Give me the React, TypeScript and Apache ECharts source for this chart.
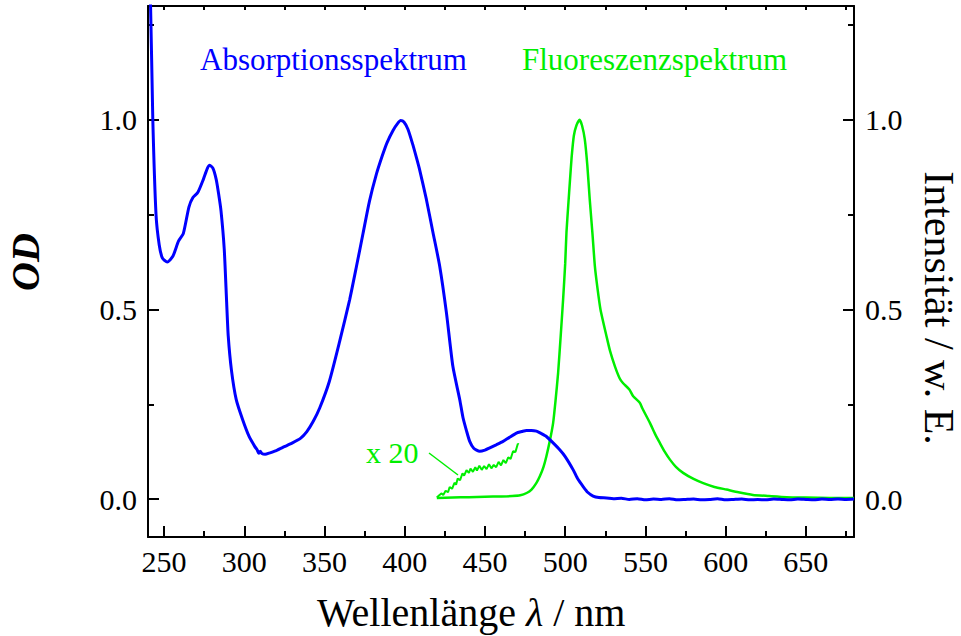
import React, { useEffect, useRef } from "react";
import * as echarts from "echarts";

// Absorption spectrum (optical density vs. wavelength in nm)
const absWavelength = [
  240, 241.6, 243, 245, 247, 249, 252, 255.5, 259, 262, 265.5, 268, 271, 274.5, 277, 278.5, 280.5,
  282.5, 284, 285.5, 287.5, 289, 290, 292, 295, 299, 303, 306.5, 308, 309, 310, 311, 313, 316, 320,
  325, 330, 335, 339, 343, 347, 353, 359.4, 365.7, 370, 374, 378, 382.3, 386, 389, 392.7, 395.5,
  397.5, 399.5, 402, 405, 407.3, 409.3, 413.5, 417.6, 421.8, 426, 430, 434.3, 436.3, 438.5, 440.5,
  443, 446.7, 450, 453, 457, 461.3, 465, 469.6, 473, 475.9, 479, 482.1, 485, 488.3, 492, 496.6,
  500, 505, 508, 511.2, 514, 517.4, 521, 525.8, 530, 535, 540, 545, 550, 555, 560, 565, 570, 575,
  580, 585, 590, 595, 600, 605, 610, 615, 620, 625, 630, 635, 640, 645, 650, 655, 660, 665, 670,
  675, 680,
];
const absOD = [
  1.45, 1.3, 1.0, 0.75, 0.67, 0.635, 0.625, 0.64, 0.68, 0.7, 0.77, 0.795, 0.808, 0.843, 0.872,
  0.88, 0.872, 0.843, 0.805, 0.76, 0.66, 0.52, 0.43, 0.34, 0.262, 0.209, 0.165, 0.139, 0.13,
  0.121, 0.126, 0.12, 0.118, 0.122, 0.128, 0.138, 0.148, 0.16, 0.178, 0.205, 0.24, 0.31, 0.415,
  0.526, 0.615, 0.7, 0.785, 0.856, 0.905, 0.94, 0.972, 0.99, 0.998, 0.994, 0.975, 0.935, 0.9,
  0.868, 0.79, 0.703, 0.614, 0.491, 0.35, 0.262, 0.215, 0.18, 0.152, 0.134, 0.126, 0.129, 0.135,
  0.143, 0.152, 0.162, 0.174, 0.178, 0.181, 0.181, 0.179, 0.173, 0.165, 0.15, 0.13, 0.112, 0.077,
  0.052, 0.033, 0.018, 0.008, 0.004, 0.003, 0.001, 0.002, -0.001, 0.001, -0.002, 0.0, -0.001,
  0.001, -0.002, -0.001, 0.0, -0.002, -0.001, 0.001, -0.002, -0.001, 0.0, -0.002, -0.001, -0.002,
  0.0, -0.001, -0.002, 0.0, -0.001, -0.002, 0.0, -0.001, 0.0, -0.001, 0.0,
];

// Fluorescence spectrum (normalised intensity)
const fluoWavelength = [
  420, 430, 440, 450, 460, 467, 472, 476, 479, 482, 484.2, 486.5, 488.3, 490.5, 492.5, 494,
  495.6, 497.2, 498.7, 500, 500.8, 502, 502.9, 504, 505.4, 507, 509, 510.5, 512.2, 513.8, 515.3,
  517, 518.5, 520, 522, 526, 528, 531, 534, 536, 540, 542.4, 546.5, 548, 552.8, 556, 559, 562,
  565.3, 569, 573.5, 580, 586, 593, 600.6, 608, 617, 627, 638, 650, 665, 680,
];
const fluoIntensity = [
  0.003, 0.004, 0.005, 0.006, 0.007, 0.008, 0.01, 0.016, 0.025, 0.042, 0.06, 0.085, 0.113, 0.155,
  0.201, 0.26, 0.333, 0.43, 0.526, 0.62, 0.703, 0.78, 0.835, 0.9, 0.958, 0.985, 1.0, 0.985, 0.949,
  0.88, 0.79, 0.7, 0.614, 0.56, 0.5, 0.425, 0.39, 0.35, 0.318, 0.306, 0.289, 0.271, 0.254, 0.24,
  0.201, 0.172, 0.148, 0.125, 0.104, 0.085, 0.069, 0.053, 0.042, 0.032, 0.025, 0.018, 0.011,
  0.008, 0.005, 0.004, 0.003, 0.003,
];

// Onset of the fluorescence band, magnified twenty times
const fluoX20Wavelength = [
  420, 421.5, 423, 424, 425.5, 427, 428, 429.5, 431, 432, 433, 434.5, 436, 437, 438.5, 440, 441,
  442.5, 444, 445, 446.5, 448, 449.5, 451, 452.5, 454, 455.5, 457, 458.5, 460, 461.5, 463, 464.5,
  466, 467.5, 469, 470.5, 471,
];
const fluoX20Intensity = [
  0.004, 0.01, 0.015, 0.011, 0.022, 0.018, 0.032, 0.027, 0.043, 0.038, 0.054, 0.05, 0.068, 0.062,
  0.076, 0.069, 0.08, 0.072, 0.084, 0.075, 0.088, 0.077, 0.087, 0.079, 0.092, 0.081, 0.09, 0.084,
  0.098, 0.089, 0.103, 0.095, 0.11, 0.106, 0.126, 0.124, 0.146, 0.144,
];

// Axis ticks
const xMajorTicks = [250, 300, 350, 400, 450, 500, 550, 600, 650];
const xMinorTicks = [275, 325, 375, 425, 475, 525, 575, 625, 675];
const yMajorTicks = [0, 0.5, 1.0];
const yMinorTicks = [0.25, 0.75, 1.25];

const X_MIN = 240;
const X_MAX = 680;
const Y_MIN = -0.1;
const Y_MAX = 1.3;

const BLUE = "#0000ff";
const GREEN = "#00ee00";
const SERIF = '"Liberation Serif", "Times New Roman", serif';

const zip = (xs: number[], ys: number[]) => xs.map((x, i) => [x, ys[i]]);

function xAxisDef(position: "bottom" | "top", ticks: number[], len: number, labels: boolean, line: boolean) {
  return {
    type: "value",
    position,
    min: X_MIN,
    max: X_MAX,
    axisLine: { show: line, onZero: false, lineStyle: { color: "#000", width: 2 } },
    axisTick: { show: true, inside: true, length: len, customValues: ticks, lineStyle: { color: "#000", width: 2 } },
    axisLabel: labels
      ? { show: true, customValues: ticks, margin: 9, fontSize: 30, color: "#000", fontFamily: SERIF }
      : { show: false },
    splitLine: { show: false },
  };
}

function yAxisDef(position: "left" | "right", ticks: number[], len: number, labels: boolean, line: boolean) {
  return {
    type: "value",
    position,
    min: Y_MIN,
    max: Y_MAX,
    axisLine: { show: line, onZero: false, lineStyle: { color: "#000", width: 2 } },
    axisTick: { show: true, inside: true, length: len, customValues: ticks, lineStyle: { color: "#000", width: 2 } },
    axisLabel: labels
      ? {
          show: true,
          customValues: ticks,
          margin: 11,
          fontSize: 30,
          color: "#000",
          fontFamily: SERIF,
          formatter: (v: number) => v.toFixed(1),
        }
      : { show: false },
    splitLine: { show: false },
  };
}

export default function App() {
  const ref = useRef<HTMLDivElement>(null);

  useEffect(() => {
    if (!ref.current) return;
    const chart = echarts.init(ref.current, undefined, { renderer: "svg" });
    chart.setOption({
      animation: false,
      backgroundColor: "#fff",
      grid: { left: 148, top: 6, width: 706, height: 531, containLabel: false },
      xAxis: [
        xAxisDef("bottom", xMajorTicks, 11, true, true),
        xAxisDef("bottom", xMinorTicks, 6, false, false),
        xAxisDef("top", [...xMajorTicks, ...xMinorTicks], 4, false, true),
      ],
      yAxis: [
        yAxisDef("left", yMajorTicks, 11, true, true),
        yAxisDef("left", yMinorTicks, 6, false, false),
        yAxisDef("right", yMajorTicks, 11, true, true),
        yAxisDef("right", yMinorTicks, 6, false, false),
      ],
      series: [
        {
          name: "Absorptionsspektrum",
          type: "line",
          xAxisIndex: 0,
          yAxisIndex: 0,
          data: zip(absWavelength, absOD),
          showSymbol: false,
          smooth: 0.2,
          clip: true,
          lineStyle: { color: BLUE, width: 3 },
          z: 3,
        },
        {
          name: "Fluoreszenzspektrum",
          type: "line",
          xAxisIndex: 0,
          yAxisIndex: 0,
          data: zip(fluoWavelength, fluoIntensity),
          showSymbol: false,
          smooth: 0.2,
          clip: true,
          lineStyle: { color: GREEN, width: 2.5 },
          z: 2,
        },
        {
          name: "x 20",
          type: "line",
          xAxisIndex: 0,
          yAxisIndex: 0,
          data: zip(fluoX20Wavelength, fluoX20Intensity),
          showSymbol: false,
          clip: true,
          lineStyle: { color: GREEN, width: 2 },
          z: 2,
        },
      ],
      graphic: [
        {
          type: "text",
          x: 200,
          y: 59,
          style: { text: "Absorptionsspektrum", fill: BLUE, font: `31px ${SERIF}`, textAlign: "left", textVerticalAlign: "middle" },
        },
        {
          type: "text",
          x: 522,
          y: 59,
          style: { text: "Fluoreszenzspektrum", fill: GREEN, font: `31px ${SERIF}`, textAlign: "left", textVerticalAlign: "middle" },
        },
        {
          type: "text",
          x: 366,
          y: 452,
          style: { text: "x 20", fill: GREEN, font: `30px ${SERIF}`, textAlign: "left", textVerticalAlign: "middle" },
        },
        {
          type: "line",
          shape: { x1: 429, y1: 453, x2: 458, y2: 475 },
          style: { stroke: GREEN, lineWidth: 1.5 },
        },
        {
          type: "text",
          x: 317,
          y: 612,
          style: {
            text: "{n|Wellenlänge }{i|λ}{n| / nm}",
            textAlign: "left",
            textVerticalAlign: "middle",
            rich: {
              n: { fontFamily: SERIF, fontSize: 40, fill: "#000" },
              i: { fontFamily: SERIF, fontSize: 40, fontStyle: "italic", fill: "#000" },
            },
          },
        },
        {
          type: "text",
          x: 25,
          y: 262,
          rotation: Math.PI / 2,
          style: { text: "OD", fill: "#000", font: `italic bold 40px ${SERIF}`, textAlign: "center", textVerticalAlign: "middle" },
        },
        {
          type: "text",
          x: 939,
          y: 308,
          rotation: -Math.PI / 2,
          style: { text: "Intensität / w. E.", fill: "#000", font: `42px ${SERIF}`, textAlign: "center", textVerticalAlign: "middle" },
        },
      ],
    });
    return () => chart.dispose();
  }, []);

  return (
    <div
      ref={ref}
      style={{ position: "fixed", left: 0, top: 0, width: 961, height: 636, background: "#fff" }}
    />
  );
}
